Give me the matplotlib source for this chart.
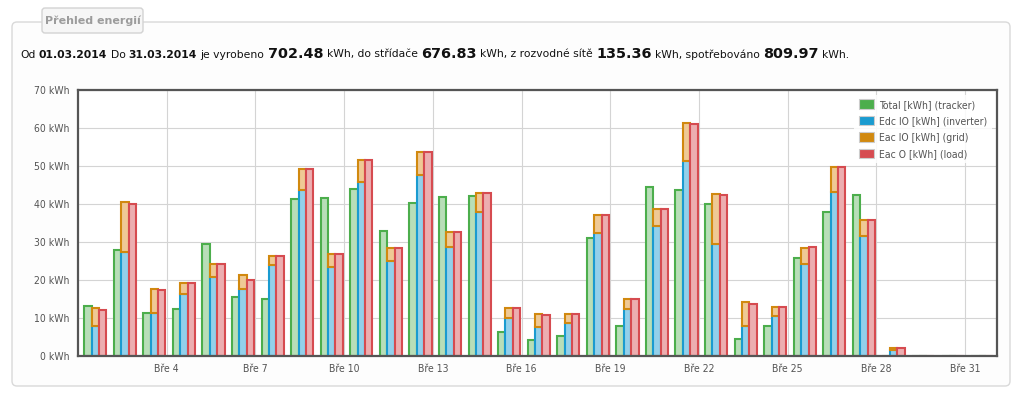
import matplotlib
matplotlib.use('Agg')
import matplotlib.pyplot as plt
from matplotlib.patches import FancyBboxPatch, Patch
from matplotlib import font_manager
import numpy as np

# ---------------- data ----------------
days = list(range(1, 32))
tracker = [13.1, 28.0, 11.3, 12.3, 29.4, 15.5, 15.0, 41.4, 41.6, 44.0, 33.0, 40.2, 41.9, 42.1,
           6.3, 4.2, 5.2, 31.0, 7.8, 44.4, 43.7, 40.0, 4.5, 7.8, 25.7, 38.0, 42.3, 0, 0, 0, 0]
inverter = [7.9, 27.3, 11.2, 16.2, 20.7, 17.7, 23.9, 43.8, 23.3, 45.8, 25.1, 47.7, 28.6, 38.0,
            10.0, 7.6, 8.7, 32.5, 12.3, 34.1, 51.4, 29.5, 7.8, 10.4, 24.2, 43.2, 31.5, 1.6, 0, 0, 0]
grid = [4.7, 13.1, 6.4, 3.0, 3.4, 3.6, 2.3, 5.5, 3.6, 5.8, 3.2, 6.0, 4.0, 5.0,
        2.6, 3.5, 2.3, 4.5, 2.8, 4.7, 9.8, 13.1, 6.4, 2.5, 4.3, 6.5, 4.4, 0.6, 0, 0, 0]
load = [12.1, 40.0, 17.3, 19.2, 24.1, 20.1, 26.2, 49.3, 26.9, 51.6, 28.5, 53.7, 32.6, 43.0,
        12.6, 10.9, 11.0, 37.0, 15.1, 38.8, 61.0, 42.3, 13.7, 12.9, 28.6, 49.7, 35.8, 2.2, 0, 0, 0]
series_names = ['Total [kWh] (tracker)', 'Edc IO [kWh] (inverter)', 'Eac IO [kWh] (grid)', 'Eac O [kWh] (load)']
tick_days = [4, 7, 10, 13, 16, 19, 22, 25, 28, 31]
tick_labels = ['Bře %d' % d for d in tick_days]
y_ticks = [0, 10, 20, 30, 40, 50, 60, 70]
y_labels = ['%d kWh' % v for v in y_ticks]
date_from = '01.03.2014'
date_to = '31.03.2014'
total_prod = '702.48'
total_inv = '676.83'
total_grid = '135.36'
total_load = '809.97'
box_title = 'Přehled energií'

# ---------------- style ----------------
edge_cols = ['#4cae4c', '#1a9bd0', '#d1890f', '#d64b50']
fill_cols = ['#b8deb8', '#93d0ea', '#efc995', '#ecaeb0']
text_col = '#545454'

fp_cond = font_manager.FontProperties(family='DejaVu Sans', stretch='condensed')
cond_file = font_manager.findfont(fp_cond)
if 'Condensed' in cond_file:
    small_kw = dict(family='DejaVu Sans', stretch='condensed', size=7.5)
else:
    small_kw = dict(family='DejaVu Sans', size=6.7)

fig = plt.figure(figsize=(10.24, 4), dpi=100)
fig.patch.set_facecolor('white')

panel = FancyBboxPatch((0.12, 0.14), 9.98, 3.64,
                       boxstyle='round,pad=0,rounding_size=0.05',
                       transform=fig.dpi_scale_trans, facecolor='#fdfdfd',
                       edgecolor='#d9d9d9', linewidth=1.0, zorder=0)
fig.add_artist(panel)
tbox = FancyBboxPatch((0.42, 3.67), 1.01, 0.25,
                      boxstyle='round,pad=0,rounding_size=0.03',
                      transform=fig.dpi_scale_trans, facecolor='#f6f6f6',
                      edgecolor='#d3d3d3', linewidth=1.0, zorder=1)
fig.add_artist(tbox)
fig.text(0.925, 3.79, box_title, transform=fig.dpi_scale_trans, ha='center', va='center',
         fontsize=8.0, fontweight='bold', color='#9c9c9c', family='DejaVu Sans', zorder=2)

# ---------------- summary line ----------------
pieces = [('Od', 'n'), (date_from, 'b'), ('Do', 'n'), (date_to, 'b'), ('je vyrobeno', 'n'),
          (total_prod, 'B'), ('kWh, do střídače', 'n'), (total_inv, 'B'),
          ('kWh, z rozvodné sítě', 'n'), (total_grid, 'B'), ('kWh, spotřebováno', 'n'),
          (total_load, 'B'), ('kWh.', 'n')]
renderer = fig.canvas.get_renderer()

def style(kind, scale):
    if kind == 'n':
        return dict(fontsize=7.7 * scale, fontweight='normal')
    if kind == 'b':
        return dict(fontsize=7.7 * scale, fontweight='bold')
    return dict(fontsize=10.3 * scale, fontweight='bold')

def layout(scale, draw):
    x = 20.0
    t1 = fig.text(0, 0, 'a a', **style('n', scale))
    t2 = fig.text(0, 0, 'aa', **style('n', scale))
    space = t1.get_window_extent(renderer).width - t2.get_window_extent(renderer).width
    t1.remove()
    t2.remove()
    for s, k in pieces:
        t = fig.text(x / 100.0, (400 - 57.5) / 100.0, s, transform=fig.dpi_scale_trans,
                     ha='left', va='baseline', color='#111111', family='DejaVu Sans', **style(k, scale))
        w = t.get_window_extent(renderer).width
        if not draw:
            t.remove()
        x += w + space
    return x - space

end = layout(1.0, False)
scale = (843 - 20) / (end - 20)
layout(scale, True)

# ---------------- chart ----------------
ax = fig.add_axes([77.5 / 1024, 44 / 400, (997 - 77.5) / 1024, (356 - 90) / 400])
ax.set_facecolor('white')
x = np.array(days, dtype=float)
w = 0.25
lw = 1.5
ax.bar(x + 0.33, tracker, width=w, color=fill_cols[0], edgecolor=edge_cols[0], linewidth=lw, zorder=2)
ax.bar(x + 0.58, inverter, width=w, color=fill_cols[1], edgecolor=edge_cols[1], linewidth=lw, zorder=2)
ax.bar(x + 0.58, grid, width=w, bottom=inverter, color=fill_cols[2], edgecolor=edge_cols[2], linewidth=lw, zorder=2)
ax.bar(x + 0.83, load, width=w, color=fill_cols[3], edgecolor=edge_cols[3], linewidth=lw, zorder=2)

ax.set_xlim(0.98, 32.08)
ax.set_ylim(0, 70)
ax.set_xticks(tick_days)
ax.set_xticklabels(tick_labels, color=text_col, **small_kw)
ax.set_yticks(y_ticks)
ax.set_yticklabels(y_labels, color=text_col, **small_kw)
ax.tick_params(axis='y', length=0, pad=6)
ax.tick_params(axis='x', length=0, pad=6)
ax.grid(True, color='#d4d4d4', linewidth=0.8, zorder=0)
ax.set_axisbelow(True)
for s in ax.spines.values():
    s.set_color('#555555')
    s.set_linewidth(1.6)
    s.set_zorder(5)

handles = [Patch(facecolor=c, edgecolor='#cccccc', linewidth=0.8) for c in edge_cols]
leg = ax.legend(handles, series_names, loc='upper right', prop=font_manager.FontProperties(**small_kw),
                frameon=True, framealpha=0.85, edgecolor='none', facecolor='white',
                handlelength=1.5, handleheight=1.0, handletextpad=0.5, labelspacing=0.6,
                borderaxespad=0.5, fancybox=False)
for t in leg.get_texts():
    t.set_color(text_col)

fig.savefig('out.png', dpi=100, facecolor='white')
